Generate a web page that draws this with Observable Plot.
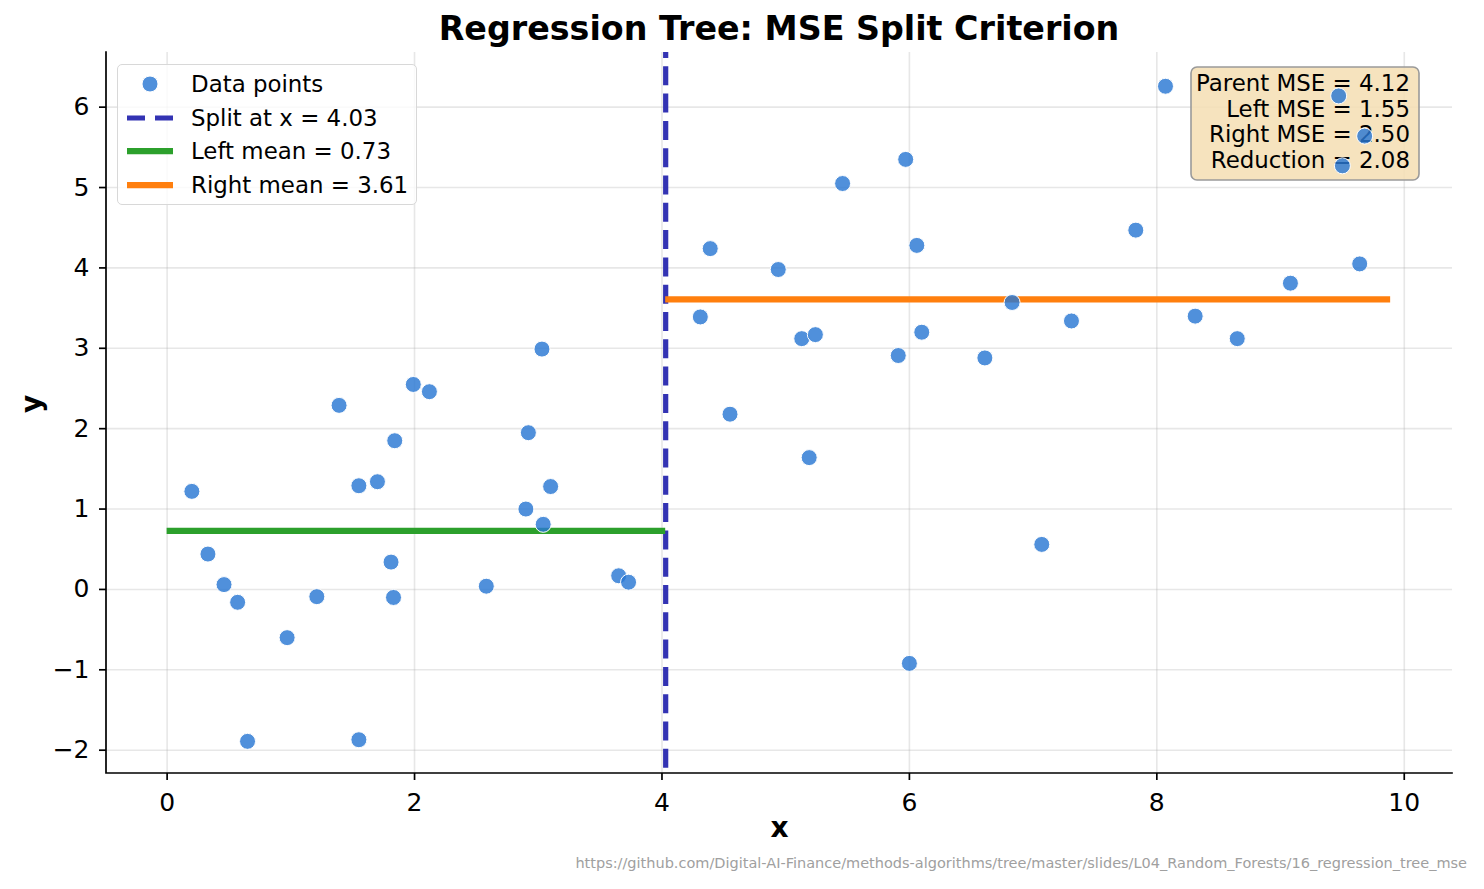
<!DOCTYPE html>
<html>
<head>
<meta charset="utf-8">
<script src="https://cdn.jsdelivr.net/npm/d3@7"></script>
<script src="https://cdn.jsdelivr.net/npm/@observablehq/plot@0.6"></script>
<style>
  html, body { margin: 0; padding: 0; background: #fff; }
  body { font-family: "DejaVu Sans", sans-serif; color: #000; }
  #wrap { position: relative; width: 1484px; height: 889px; overflow: hidden; }
  #title { position: absolute; left: 106px; width: 1346px; top: 9px; text-align: center;
           font-weight: bold; font-size: 33.3px; line-height: 40px; white-space: nowrap; }
  #chart { position: absolute; left: 0; top: 0; }
  #legend { position: absolute; left: 117px; top: 64px; width: 298px; height: 139px;
            border: 1.5px solid #d8d8d8; border-radius: 5px; background: rgba(255,255,255,0.8); }
  .row { position: absolute; left: 0; height: 30px; width: 298px; }
  .row svg { position: absolute; left: 8px; top: 0; }
  .row span { position: absolute; left: 73px; top: 0; font-size: 22.9px; line-height: 30px; white-space: nowrap; }
  #caption { position: absolute; right: 17px; top: 855px; font-size: 14.5px; color: #a0a0a0; white-space: nowrap; }
</style>
</head>
<body>
<div id="wrap">
  <div id="chart"></div>
  <div id="title"></div>
  <div id="legend"></div>
  <div id="caption"></div>
</div>
<script>
// ---- data ----
const pointX = [0.20, 0.33, 0.46, 0.57, 0.65, 0.97, 1.21, 1.39, 1.55, 1.55, 1.70, 1.81, 1.83, 1.84, 1.99, 2.12,
                2.58, 2.90, 2.92, 3.03, 3.04, 3.10, 3.65, 3.73,
                4.31, 4.39, 4.55, 4.94, 5.13, 5.19, 5.24, 5.46, 5.91, 5.97, 6.00, 6.06, 6.10, 6.61, 6.83,
                7.07, 7.31, 7.83, 8.07, 8.31, 8.65, 9.08, 9.47, 9.64, 9.68, 9.50];
const pointY = [1.22, 0.44, 0.06, -0.16, -1.89, -0.60, -0.09, 2.29, 1.29, -1.87, 1.34, 0.34, -0.10, 1.85, 2.55, 2.46,
                0.04, 1.00, 1.95, 2.99, 0.81, 1.28, 0.17, 0.09,
                3.39, 4.24, 2.18, 3.98, 3.12, 1.64, 3.17, 5.05, 2.91, 5.35, -0.92, 4.28, 3.20, 2.88, 3.57,
                0.56, 3.34, 4.47, 6.26, 3.40, 3.12, 3.81, 6.14, 4.05, 5.64, 5.27];
const splitX = 4.03;
const segNames = ["Left mean", "Right mean"];
const segMeans = [0.73, 3.61];
const segStart = [0, 4.03];
const segEnd = [4.03, 9.89];
const segColors = ["#2ca02c", "#ff7f0e"];
const xTicks = [0, 2, 4, 6, 8, 10];
const yTicks = [-2, -1, 0, 1, 2, 3, 4, 5, 6];
const xDomain = [-0.49, 10.39];
const yDomain = [-2.29, 6.68];
const statLabels = ["Parent MSE", "Left MSE", "Right MSE", "Reduction"];
const statValues = [4.12, 1.55, 2.50, 2.08];
const titleText = "Regression Tree: MSE Split Criterion";
const captionText = "https://github.com/Digital-AI-Finance/methods-algorithms/tree/master/slides/L04_Random_Forests/16_regression_tree_mse";

const points = pointX.map((x, i) => ({x, y: pointY[i]}));
const segments = segNames.map((name, i) => ({name, mean: segMeans[i], start: segStart[i], end: segEnd[i], color: segColors[i]}));

const FONT = "DejaVu Sans";
const DOT_FILL = "#2a78d3";

// stats box (drawn beneath the points, above grid)
function statsBox(index, scales, values, dims) {
  const right = dims.width - dims.marginRight - 33;
  const top = dims.marginTop + 15;
  const w = 228, h = 113;
  const g = d3.create("svg:g");
  g.append("rect")
    .attr("x", right - w).attr("y", top).attr("width", w).attr("height", h)
    .attr("rx", 6).attr("ry", 6)
    .attr("fill", "#f5deb3").attr("fill-opacity", 0.85)
    .attr("stroke", "#9a9a9a").attr("stroke-width", 1.6);
  const t = g.append("text")
    .attr("font-family", FONT).attr("font-size", 22.9).attr("text-anchor", "end").attr("fill", "#000");
  statLabels.forEach((lab, i) => {
    t.append("tspan").attr("x", right - 9).attr("y", top + 24.4 + i * 25.5)
      .text(`${lab} = ${statValues[i].toFixed(2)}`);
  });
  return g.node();
}

function spines(index, scales, values, dims) {
  const l = dims.marginLeft, t = dims.marginTop;
  const r = dims.width - dims.marginRight, b = dims.height - dims.marginBottom;
  const g = d3.create("svg:g");
  g.append("path").attr("d", `M${l},${t}V${b}H${r}`)
    .attr("fill", "none").attr("stroke", "#000").attr("stroke-width", 1.7).attr("stroke-linecap", "square");
  return g.node();
}

const fmt = d3.format("d");

const chart = Plot.plot({
  width: 1484,
  height: 889,
  marginTop: 52,
  marginBottom: 116,
  marginLeft: 106,
  marginRight: 32,
  style: {fontFamily: FONT, background: "transparent", color: "#000", overflow: "visible"},
  x: {domain: xDomain},
  y: {domain: yDomain},
  marks: [
    Plot.gridX(xTicks, {stroke: "#b0b0b0", strokeOpacity: 0.3, strokeWidth: 1.6}),
    Plot.gridY(yTicks, {stroke: "#b0b0b0", strokeOpacity: 0.3, strokeWidth: 1.6}),
    statsBox,
    Plot.ruleX([splitX], {stroke: "#3333b3", strokeWidth: 5.2, strokeDasharray: "19,8.3", strokeDashoffset: 13}),
    Plot.ruleY(segments, {y: "mean", x1: "start", x2: "end", stroke: d => d.color, strokeWidth: 6.25}),
    Plot.dot(points, {x: "x", y: "y", r: 8, fill: DOT_FILL, fillOpacity: 0.82, stroke: "#ffffff", strokeWidth: 1}),
    Plot.axisX(xTicks, {label: null, tickSize: 7, tickPadding: 13, fontSize: 25, strokeWidth: 1.7, tickFormat: fmt}),
    Plot.axisY(yTicks, {label: null, tickSize: 7, tickPadding: 10, fontSize: 25, strokeWidth: 1.7, tickFormat: fmt}),
    Plot.text(["x"], {frameAnchor: "bottom", dy: 63, fontSize: 28, fontWeight: "bold", fill: "#000"}),
    Plot.text(["y"], {frameAnchor: "left", dx: -74, rotate: -90, fontSize: 28, fontWeight: "bold", fill: "#000"}),
    spines
  ]
});
document.getElementById("chart").appendChild(chart);

document.getElementById("title").textContent = titleText;
document.getElementById("caption").textContent = captionText;

// legend
const legendItems = [
  {label: "Data points", kind: "dot"},
  {label: `Split at x = ${splitX.toFixed(2)}`, kind: "dash", color: "#3333b3"},
  {label: `${segNames[0]} = ${segMeans[0].toFixed(2)}`, kind: "line", color: segColors[0]},
  {label: `${segNames[1]} = ${segMeans[1].toFixed(2)}`, kind: "line", color: segColors[1]}
];
const legend = d3.select("#legend");
legendItems.forEach((it, i) => {
  const row = legend.append("div").attr("class", "row").style("top", `${4 + i * 33.6}px`);
  const s = row.append("svg").attr("width", 50).attr("height", 30);
  if (it.kind === "dot") {
    s.append("circle").attr("cx", 24).attr("cy", 15).attr("r", 8)
      .attr("fill", DOT_FILL).attr("fill-opacity", 0.82).attr("stroke", "#fff").attr("stroke-width", 1);
  } else if (it.kind === "dash") {
    s.append("line").attr("x1", 1).attr("x2", 47).attr("y1", 15).attr("y2", 15)
      .attr("stroke", it.color).attr("stroke-width", 5.2).attr("stroke-dasharray", "18,10");
  } else {
    s.append("line").attr("x1", 1).attr("x2", 47).attr("y1", 15).attr("y2", 15)
      .attr("stroke", it.color).attr("stroke-width", 6.25);
  }
  row.append("span").text(it.label);
});
</script>
</body>
</html>
